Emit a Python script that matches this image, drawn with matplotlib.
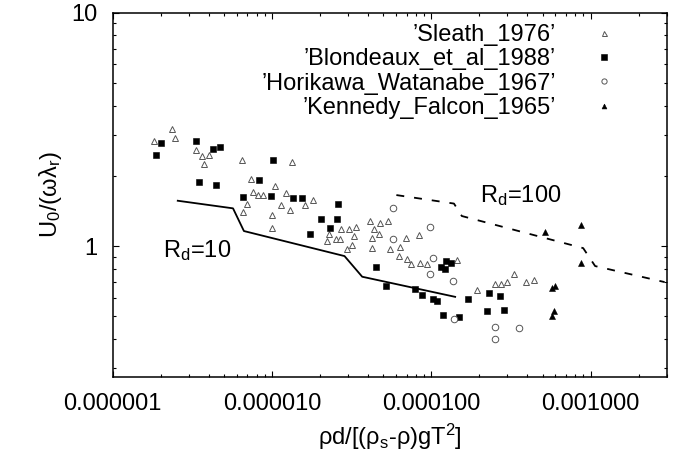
import matplotlib.pyplot as plt
from matplotlib.ticker import LogLocator, NullFormatter

plt.rcParams["font.family"] = ["Liberation Sans", "DejaVu Sans"]
plt.rcParams["mathtext.fontset"] = "custom"
plt.rcParams["mathtext.rm"] = "Liberation Sans"
plt.rcParams["mathtext.it"] = "Liberation Sans:italic"

# Sleath 1976 (open triangles)
sleath_x = [1.82e-6, 2.35e-6, 2.47e-6, 3.34e-6, 3.61e-6, 4.00e-6, 3.75e-6, 6.47e-6,
            7.43e-6, 1.05e-5, 7.63e-6, 8.20e-6, 8.81e-6, 6.95e-6, 6.62e-6, 9.96e-6,
            1.00e-5, 1.34e-5, 1.23e-5, 1.14e-5, 1.30e-5, 1.61e-5, 1.81e-5, 2.71e-5,
            3.04e-5, 3.36e-5, 2.29e-5, 2.20e-5, 2.51e-5, 2.68e-5, 3.28e-5, 3.19e-5,
            2.95e-5, 4.10e-5, 4.74e-5, 5.31e-5, 4.35e-5, 4.67e-5, 4.22e-5, 4.22e-5,
            6.92e-5, 8.42e-5, 5.50e-5, 6.31e-5, 6.23e-5, 7.00e-5, 7.42e-5, 8.44e-5,
            9.37e-5, 1.45e-4, 1.94e-4, 2.50e-4, 2.73e-4, 2.99e-4, 3.31e-4, 3.90e-4,
            4.42e-4]
sleath_y = [2.83, 3.17, 2.90, 2.59, 2.42, 2.46, 2.25, 2.34,
            1.93, 1.81, 1.71, 1.66, 1.65, 1.51, 1.40, 1.36,
            1.20, 2.29, 1.69, 1.50, 1.43, 1.50, 1.58, 1.18,
            1.18, 1.21, 1.13, 1.05, 1.07, 1.07, 1.10, 1.01,
            0.971, 1.28, 1.26, 1.28, 1.18, 1.13, 1.08, 0.983,
            1.08, 1.12, 0.971, 0.988, 0.903, 0.880, 0.835, 0.847,
            0.836, 0.873, 0.646, 0.691, 0.691, 0.701, 0.760, 0.704,
            0.713]

# Blondeaux et al. 1988 (filled squares)
blondeaux_x = [2.01e-6, 1.87e-6, 3.33e-6, 4.24e-6, 4.69e-6, 1.01e-5, 3.47e-6, 4.43e-6,
               8.33e-6, 6.53e-6, 9.86e-6, 1.36e-5, 1.55e-5, 2.59e-5, 2.03e-5, 2.56e-5,
               2.31e-5, 1.73e-5, 4.47e-5, 5.17e-5, 7.95e-5, 8.77e-5, 1.03e-4, 1.09e-4,
               1.15e-4, 1.23e-4, 1.21e-4, 1.33e-4, 1.19e-4, 1.50e-4, 1.70e-4, 2.30e-4,
               2.70e-4, 2.24e-4, 2.85e-4]
blondeaux_y = [2.76, 2.45, 2.81, 2.60, 2.65, 2.33, 1.88, 1.82,
               1.91, 1.63, 1.64, 1.61, 1.61, 1.52, 1.31, 1.31,
               1.20, 1.13, 0.810, 0.672, 0.653, 0.615, 0.594, 0.584,
               0.811, 0.860, 0.795, 0.843, 0.505, 0.495, 0.592, 0.627,
               0.609, 0.525, 0.531]

# Horikawa & Watanabe 1967 (open circles)
horikawa_x = [5.75e-5, 5.71e-5, 9.81e-5, 1.02e-4, 9.79e-5, 1.37e-4, 1.39e-4, 2.50e-4,
              2.52e-4, 3.55e-4]
horikawa_y = [1.45, 1.07, 1.21, 0.886, 0.756, 0.711, 0.485, 0.452,
              0.401, 0.447]

# Kennedy & Falcon 1965 (filled triangles)
kennedy_x = [5.18e-4, 8.71e-4, 8.75e-4, 5.72e-4, 5.94e-4, 5.70e-4, 5.91e-4]
kennedy_y = [1.15, 1.23, 0.848, 0.664, 0.674, 0.502, 0.526]

# threshold curves
rd10_x = [2.56e-6, 5.69e-6, 6.66e-6, 2.85e-5, 3.68e-5, 1.41e-4]
rd10_y = [1.564, 1.451, 1.160, 0.906, 0.739, 0.606]
rd100_x = [6.03e-5, 1.386e-4, 1.553e-4, 8.97e-4, 1.066e-3, 2.91e-3]
rd100_y = [1.654, 1.521, 1.345, 0.980, 0.821, 0.701]

xticks = [1e-6, 1e-5, 1e-4, 1e-3]
xtick_labels = ["0.000001", "0.000010", "0.000100", "0.001000"]
yticks = [1, 10]
ytick_labels = ["1", "10"]

fs = 17

fig = plt.figure(figsize=(6.86, 4.58), dpi=100)
ax = fig.add_axes([0.1643, 0.1762, 0.8076, 0.7961])

gray = "#555555"
ax.plot(sleath_x, sleath_y, ls="none", marker="^", ms=4.5, mfc="white",
        mec=gray, mew=0.7, label="\u2019Sleath_1976\u2019")
ax.plot(blondeaux_x, blondeaux_y, ls="none", marker="s", ms=4.8, mfc="black",
        mec="black", mew=0.4, label="\u2019Blondeaux_et_al_1988\u2019")
ax.plot(horikawa_x, horikawa_y, ls="none", marker="o", ms=4.7, mfc="white",
        mec=gray, mew=0.7, label="\u2019Horikawa_Watanabe_1967\u2019")
ax.plot(kennedy_x, kennedy_y, ls="none", marker="^", ms=4.4, mfc="black",
        mec="black", mew=0.4, label="\u2019Kennedy_Falcon_1965\u2019")

ax.plot(rd10_x, rd10_y, color="black", lw=1.3)
ax.plot(rd100_x, rd100_y, color="black", lw=1.3, dashes=(4.4, 5.5))

ax.text(2.06e-6, 0.956, r"R$_\mathregular{d}$=10", fontsize=fs, va="center")
ax.text(2.01e-4, 1.64, r"R$_\mathregular{d}$=100", fontsize=fs, va="center")

ax.set_xscale("log")
ax.set_yscale("log")
ax.set_xlim(1e-6, 3e-3)
ax.set_ylim(0.274, 10)

ax.set_xticks(xticks)
ax.set_xticklabels(xtick_labels)
ax.set_yticks(yticks)
ax.set_yticklabels(ytick_labels)
ax.xaxis.set_minor_locator(LogLocator(base=10, subs=range(2, 10), numticks=20))
ax.yaxis.set_minor_locator(LogLocator(base=10, subs=range(2, 10), numticks=20))
ax.xaxis.set_minor_formatter(NullFormatter())
ax.yaxis.set_minor_formatter(NullFormatter())
ax.tick_params(which="both", direction="in", top=True, right=True,
               labelsize=fs, width=0.8)
ax.tick_params(which="major", length=4.3)
ax.tick_params(which="minor", length=2.5)
ax.tick_params(axis="x", pad=11)
ax.tick_params(axis="y", pad=11)
for s in ax.spines.values():
    s.set_linewidth(1.1)

ax.set_xlabel(r"ρd/[(ρ$_\mathregular{s}$-ρ)gT$^\mathregular{2}$]", fontsize=fs, labelpad=5)
ax.set_ylabel(r"U$_\mathregular{0}$/(ωλ$_\mathregular{r}$)", fontsize=fs, labelpad=5)

ax.legend(loc="upper right", bbox_to_anchor=(0.919, 0.969), frameon=False,
          markerfirst=False, fontsize=fs, handlelength=1.5, handletextpad=1.3,
          labelspacing=0.1, borderpad=0, borderaxespad=0, markerscale=0.8)

fig.savefig("out.png", dpi=100)
